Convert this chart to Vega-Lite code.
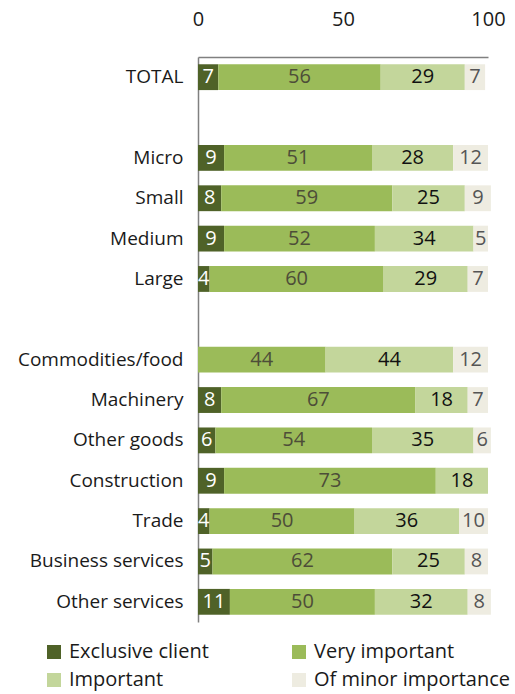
{
  "$schema": "https://vega.github.io/schema/vega-lite/v6.json",
  "width": 290,
  "height": 565,
  "autosize": {"type": "none"},
  "padding": {"left": 198, "top": 57, "right": 27, "bottom": 72},
  "background": "white",
  "config": {"font": "Open Sans", "view": {"stroke": null}},
  "data": {"values": [
    {"group": "TOTAL", "cat": "Exclusive client", "k": 1, "value": 7},
    {"group": "TOTAL", "cat": "Very important", "k": 2, "value": 56},
    {"group": "TOTAL", "cat": "Important", "k": 3, "value": 29},
    {"group": "TOTAL", "cat": "Of minor importance", "k": 4, "value": 7},
    {"group": "Micro", "cat": "Exclusive client", "k": 1, "value": 9},
    {"group": "Micro", "cat": "Very important", "k": 2, "value": 51},
    {"group": "Micro", "cat": "Important", "k": 3, "value": 28},
    {"group": "Micro", "cat": "Of minor importance", "k": 4, "value": 12},
    {"group": "Small", "cat": "Exclusive client", "k": 1, "value": 8},
    {"group": "Small", "cat": "Very important", "k": 2, "value": 59},
    {"group": "Small", "cat": "Important", "k": 3, "value": 25},
    {"group": "Small", "cat": "Of minor importance", "k": 4, "value": 9},
    {"group": "Medium", "cat": "Exclusive client", "k": 1, "value": 9},
    {"group": "Medium", "cat": "Very important", "k": 2, "value": 52},
    {"group": "Medium", "cat": "Important", "k": 3, "value": 34},
    {"group": "Medium", "cat": "Of minor importance", "k": 4, "value": 5},
    {"group": "Large", "cat": "Exclusive client", "k": 1, "value": 4},
    {"group": "Large", "cat": "Very important", "k": 2, "value": 60},
    {"group": "Large", "cat": "Important", "k": 3, "value": 29},
    {"group": "Large", "cat": "Of minor importance", "k": 4, "value": 7},
    {"group": "Commodities/food", "cat": "Very important", "k": 2, "value": 44},
    {"group": "Commodities/food", "cat": "Important", "k": 3, "value": 44},
    {"group": "Commodities/food", "cat": "Of minor importance", "k": 4, "value": 12},
    {"group": "Machinery", "cat": "Exclusive client", "k": 1, "value": 8},
    {"group": "Machinery", "cat": "Very important", "k": 2, "value": 67},
    {"group": "Machinery", "cat": "Important", "k": 3, "value": 18},
    {"group": "Machinery", "cat": "Of minor importance", "k": 4, "value": 7},
    {"group": "Other goods", "cat": "Exclusive client", "k": 1, "value": 6},
    {"group": "Other goods", "cat": "Very important", "k": 2, "value": 54},
    {"group": "Other goods", "cat": "Important", "k": 3, "value": 35},
    {"group": "Other goods", "cat": "Of minor importance", "k": 4, "value": 6},
    {"group": "Construction", "cat": "Exclusive client", "k": 1, "value": 9},
    {"group": "Construction", "cat": "Very important", "k": 2, "value": 73},
    {"group": "Construction", "cat": "Important", "k": 3, "value": 18},
    {"group": "Trade", "cat": "Exclusive client", "k": 1, "value": 4},
    {"group": "Trade", "cat": "Very important", "k": 2, "value": 50},
    {"group": "Trade", "cat": "Important", "k": 3, "value": 36},
    {"group": "Trade", "cat": "Of minor importance", "k": 4, "value": 10},
    {"group": "Business services", "cat": "Exclusive client", "k": 1, "value": 5},
    {"group": "Business services", "cat": "Very important", "k": 2, "value": 62},
    {"group": "Business services", "cat": "Important", "k": 3, "value": 25},
    {"group": "Business services", "cat": "Of minor importance", "k": 4, "value": 8},
    {"group": "Other services", "cat": "Exclusive client", "k": 1, "value": 11},
    {"group": "Other services", "cat": "Very important", "k": 2, "value": 50},
    {"group": "Other services", "cat": "Important", "k": 3, "value": 32},
    {"group": "Other services", "cat": "Of minor importance", "k": 4, "value": 8}
  ]},
  "encoding": {
    "y": {
      "field": "group",
      "type": "nominal",
      "scale": {
        "domain": ["TOTAL", " ", "Micro", "Small", "Medium", "Large", "  ", "Commodities/food", "Machinery", "Other goods", "Construction", "Trade", "Business services", "Other services"],
        "paddingInner": 0.36,
        "paddingOuter": 0.18
      },
      "axis": {
        "title": null,
        "ticks": false,
        "domain": true,
        "domainColor": "#808080",
        "domainWidth": 1.5,
        "labelFontSize": 19,
        "labelPadding": 15,
        "labelColor": "#1a1a1a"
      }
    }
  },
  "layer": [
    {
      "mark": {"type": "bar"},
      "encoding": {
        "x": {
          "field": "value",
          "type": "quantitative",
          "stack": "zero",
          "scale": {"domain": [0, 100], "nice": false},
          "axis": {
            "orient": "top",
            "values": [0, 50, 100],
            "grid": false,
            "ticks": false,
            "domain": true,
            "domainColor": "#808080",
            "domainWidth": 1.5,
            "labelFontSize": 20,
            "labelPadding": 28,
            "labelColor": "#1a1a1a",
            "labelFlush": false,
            "title": null
          }
        },
        "order": {"field": "k", "type": "quantitative"},
        "color": {
          "field": "cat",
          "type": "nominal",
          "scale": {
            "domain": ["Exclusive client", "Very important", "Important", "Of minor importance"],
            "range": ["#4f6228", "#9bbb59", "#c3d69b", "#eeece1"]
          },
          "legend": {
            "title": null,
            "orient": "none",
            "direction": "horizontal",
            "legendX": -154,
            "legendY": 585,
            "columns": 2,
            "columnPadding": 80,
            "rowPadding": 8,
            "padding": 0,
            "symbolType": "square",
            "symbolSize": 196,
            "symbolStrokeWidth": 0,
            "labelFontSize": 20,
            "labelOffset": 5,
            "labelColor": "#1a1a1a",
            "labelLimit": 300
          }
        }
      }
    },
    {
      "mark": {"type": "text", "fontSize": 20, "baseline": "middle", "align": "center"},
      "encoding": {
        "x": {"field": "value", "type": "quantitative", "stack": "zero", "bandPosition": 0.5},
        "order": {"field": "k", "type": "quantitative"},
        "text": {"field": "value", "type": "quantitative"},
        "color": {
          "field": "cat",
          "type": "nominal",
          "scale": {
            "domain": ["Exclusive client", "Very important", "Important", "Of minor importance"],
            "range": ["#ffffff", "#4d4d38", "#111111", "#555555"]
          },
          "legend": null
        }
      }
    }
  ],
  "resolve": {"scale": {"color": "independent"}}
}
